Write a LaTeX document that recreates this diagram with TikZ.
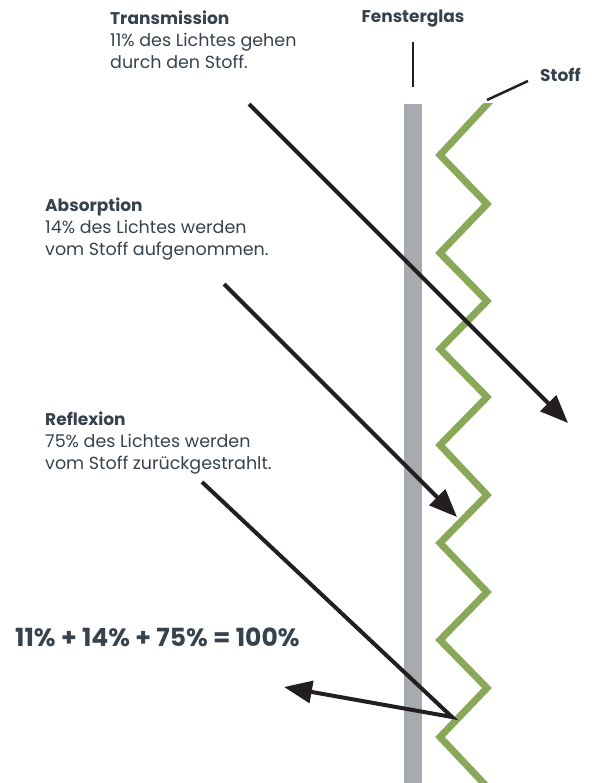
\documentclass[tikz,border=0pt]{standalone}
\usepackage{fontspec}
\setmainfont{Poppins}
\usetikzlibrary{arrows.meta}
\definecolor{txt}{HTML}{36434E}
\definecolor{arr}{HTML}{231F20}
\definecolor{glas}{HTML}{A7AAAE}
\definecolor{stoff}{HTML}{8AA85A}
\begin{document}
\begin{tikzpicture}[x=1pt,y=-1pt,
  lbl/.style={anchor=north west,inner sep=0pt,align=left,text=txt,font=\fontsize{17.5}{22}\selectfont},
  ttl/.style={inner sep=0pt,text=txt,font=\fontsize{17}{22}\selectfont\bfseries},
  ray/.style={draw=arr,line width=4pt,-{Triangle[length=28pt,width=22pt]}},
  leader/.style={draw=arr,line width=2.5pt}]
\useasboundingbox (0,0) rectangle (594,783);
% glass
\fill[glas] (404,104) rectangle (422,783);
% fabric zigzag
\begin{scope}
\clip (380,104) rectangle (594,783);
\draw[stoff,line width=7pt,line join=miter] (492,99) -- (440,155) -- (487,204) -- (440,253) -- (487,301) -- (440,349) -- (487,397) -- (440,445) -- (487,495) -- (440,543) -- (487,592) -- (440,640) -- (487,688) -- (440,737) -- (490,790);
\end{scope}
% labels
\node[lbl] (trans) at (110,11) {{\fontsize{17}{22}\selectfont\bfseries Transmission}\\11\% des Lichtes gehen\\durch den Stoff.};
\node[lbl] (abs) at (45,198) {{\fontsize{17}{22}\selectfont\bfseries Absorption}\\14\% des Lichtes werden\\vom Stoff aufgenommen.};
\node[lbl] (refl) at (45,412) {{\fontsize{17}{22}\selectfont\bfseries Reflexion}\\75\% des Lichtes werden\\vom Stoff zurückgestrahlt.};
\node[ttl] (fg) at (413,19) {Fensterglas};
\node[ttl,anchor=west] (st) at (540,75) {Stoff};
\node[inner sep=0pt,anchor=west,text=txt,font=\fontsize{25}{28}\selectfont\bfseries] (eq) at (15,637) {11\% + 14\% + 75\% = 100\%};
% leaders
\coordinate (fg1) at (413,42);
\coordinate (fg2) at (413,87);
\draw[leader] (fg1) -- (fg2);
\coordinate (st1) at (487,100);
\coordinate (st2) at (528,81);
\draw[leader] (st1) -- (st2);
% rays
\coordinate (t1) at (249,104);
\coordinate (t2) at (568,423);
\draw[ray] (t1) -- (t2);
\coordinate (a1) at (224,284);
\coordinate (a2) at (457,517);
\draw[ray] (a1) -- (a2);
\coordinate (r1) at (202,482);
\coordinate (r2) at (452,717);
\coordinate (r3) at (284,687);
\draw[ray,line join=miter] (r1) -- (r2) -- (r3);
\end{tikzpicture}
\end{document}
